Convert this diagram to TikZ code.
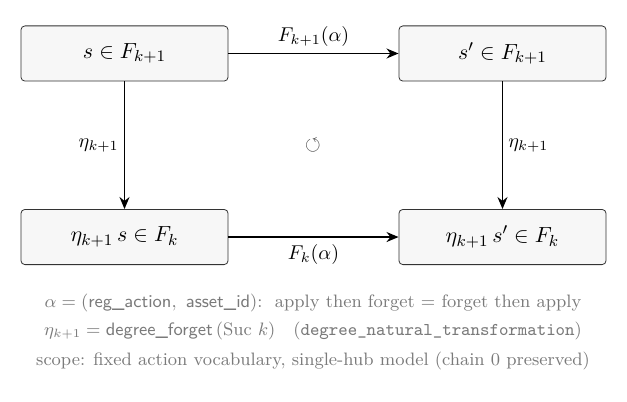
\documentclass[tikz,border=0pt]{standalone}
\usepackage{amsmath,amssymb}
\usetikzlibrary{arrows.meta,positioning}
\definecolor{CDFill}{HTML}{F7F7F7}
\definecolor{CDLine}{HTML}{333333}
\definecolor{CDNote}{HTML}{7A7A7A}
\newcommand{\ident}[1]{\textsf{\detokenize{#1}}}
\newcommand{\lean}[1]{{\ttfamily\detokenize{#1}}}
\tikzset{
  cdbox/.style={
    draw=CDLine,
    fill=CDFill,
    rounded corners=2pt,
    align=center,
    minimum width=3.64cm,
    minimum height=0.97cm,
    font=\fontsize{11.2pt}{13pt}\selectfont
  },
  cdmap/.style={-{Stealth[length=6pt,width=5pt]},draw=black,line width=0.8pt},
  cdnote/.style={font=\small,text=CDNote}
}

\begin{document}
\begin{tikzpicture}
  \useasboundingbox (0,0) rectangle (11.018,-7.047);

  \node[cdbox] (src) at (2.188,-0.940) {$s \in F_{k+1}$};
  \node[cdbox] (tgt) at (8.830,-0.940) {$s' \in F_{k+1}$};
  \node[cdbox] (srcdown) at (2.188,-4.165) {$\eta_{k+1}\, s \in F_k$};
  \node[cdbox] (tgtdown) at (8.830,-4.165) {$\eta_{k+1}\, s' \in F_k$};

  \draw[cdmap] (src) -- node[above] {$F_{k+1}(\alpha)$} (tgt);
  \draw[cdmap] (srcdown) -- node[below] {$F_k(\alpha)$} (tgtdown);
  \draw[cdmap] (src) -- node[left,inner sep=2.5pt] {$\eta_{k+1}$} (srcdown);
  \draw[cdmap] (tgt) -- node[right,inner sep=2.5pt] {$\eta_{k+1}$} (tgtdown);

  \node[text=CDLine] (comm) at (5.50,-2.548) {$\circlearrowleft$};

  \node[cdnote] (alpha) at (5.50,-5.325) {$\alpha = (\ident{reg_action},\ \ident{asset_id})$:\ \ apply then forget $=$ forget then apply};
  \node[cdnote] (eta) at (5.50,-5.817) {$\eta_{k+1} = \ident{degree_forget}\,(\mathrm{Suc}\ k)$\quad(\lean{degree_natural_transformation})};
  \node[cdnote] (scope) at (5.50,-6.344) {scope: fixed action vocabulary, single-hub model (chain 0 preserved)};
\end{tikzpicture}
\end{document}
